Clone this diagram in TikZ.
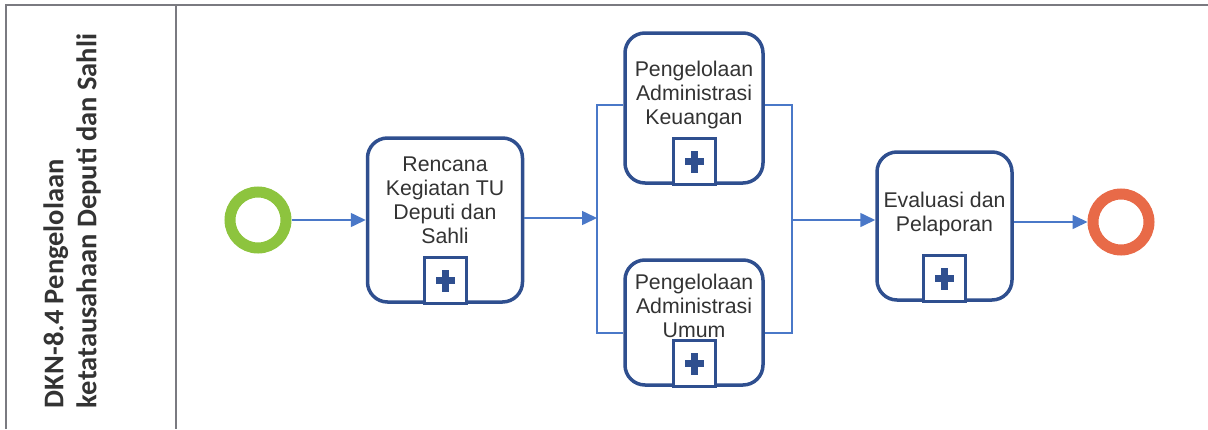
\documentclass[tikz,border=0pt]{standalone}
\usepackage{fontspec}
\setmainfont{Liberation Sans}
\newfontfamily\lanefont{Carlito}
\usetikzlibrary{arrows.meta,calc}
\definecolor{boxblue}{HTML}{2F4F8F}
\definecolor{flowblue}{HTML}{4A78C8}
\definecolor{startgreen}{HTML}{8DC43E}
\definecolor{endred}{HTML}{E86A48}
\definecolor{txtgray}{HTML}{333333}
\definecolor{framegray}{HTML}{7A7A80}
\tikzset{
  x=1pt, y=-1pt,
  task/.style={draw=boxblue, line width=3.5pt, rounded corners=20pt, fill=white,
    text=txtgray, align=center, inner sep=0pt,
    font=\fontsize{21.3}{24}\selectfont},
  flow/.style={draw=flowblue, line width=1.6pt, -{Triangle[length=15pt,width=14pt]}},
  plainflow/.style={draw=flowblue, line width=1.6pt},
  startev/.style={circle, draw=startgreen, line width=11pt, minimum size=56pt, inner sep=0pt},
  endev/.style={circle, draw=endred, line width=11pt, minimum size=56pt, inner sep=0pt},
  frame/.style={draw=framegray, line width=1.5pt},
}
\newcommand{\plusmark}[1]{%
  \draw[boxblue, line width=3pt, fill=white] ($(#1.south)+(-21,0)$) rectangle ($(#1.south)+(21,-46)$);
  \fill[boxblue] ($(#1.south)+(-3.5,-12)$) rectangle ($(#1.south)+(3.5,-34)$);
  \fill[boxblue] ($(#1.south)+(-9.5,-19.5)$) rectangle ($(#1.south)+(9.5,-26.5)$);
}
\newcommand{\tasktext}[3]{\parbox[c]{#1}{\centering #3\par\vspace{#2}}}
\begin{document}
\begin{tikzpicture}
\useasboundingbox (0,0) rectangle (1208,429);
% frame
\coordinate (tl) at (6,5);
\coordinate (tr) at (1208,5);
\coordinate (bl) at (6,429);
\coordinate (dt) at (176,5);
\coordinate (db) at (176,429);
\draw[frame] (bl) -- (tl) -- (tr);
\draw[frame] (dt) -- (db);
\node[rotate=90, align=left, text=txtgray, font=\lanefont\bfseries\fontsize{28.5}{33}\selectfont] (lane) at (72,221)
  {DKN-8.4 Pengelolaan\\ketatausahaan Deputi dan Sahli};

% events
\node[startev] (start) at (258,220) {};
\node[endev] (end) at (1121,222) {};

% tasks
\node[task, minimum width=155pt, minimum height=164pt] (t1) at (445,220)
  {\tasktext{150pt}{40pt}{Rencana\\Kegiatan TU\\Deputi dan\\Sahli}};
\node[task, minimum width=138pt, minimum height=150pt] (t2) at (694,108)
  {\tasktext{136pt}{26pt}{Pengelolaan\\Administrasi\\Keuangan}};
\node[task, minimum width=138pt, minimum height=125pt] (t3) at (694,322.5)
  {\tasktext{136pt}{33pt}{Pengelolaan\\Administrasi\\Umum}};
\node[task, minimum width=135pt, minimum height=148pt] (t4) at (944.5,226)
  {\tasktext{134pt}{24pt}{Evaluasi dan\\Pelaporan}};

\plusmark{t1}
\plusmark{t2}
\plusmark{t3}
\plusmark{t4}

% split / join bars
\coordinate (sp) at (597,218);
\coordinate (jn) at (792,220);
\draw[flow] (start.east) -- (start.east -| t1.west);
\draw[flow] (t1.east |- sp) -- (sp);
\draw[plainflow] (t2.west |- 0,105) -- (597,105) -- (597,333) -- (t3.west |- 0,333);
\draw[plainflow] (t2.east |- 0,105) -- (792,105) -- (792,333) -- (t3.east |- 0,333);
\draw[flow] (jn) -- (jn -| t4.west);
\draw[flow] (t4.east |- end.west) -- (end.west);
\end{tikzpicture}
\end{document}
